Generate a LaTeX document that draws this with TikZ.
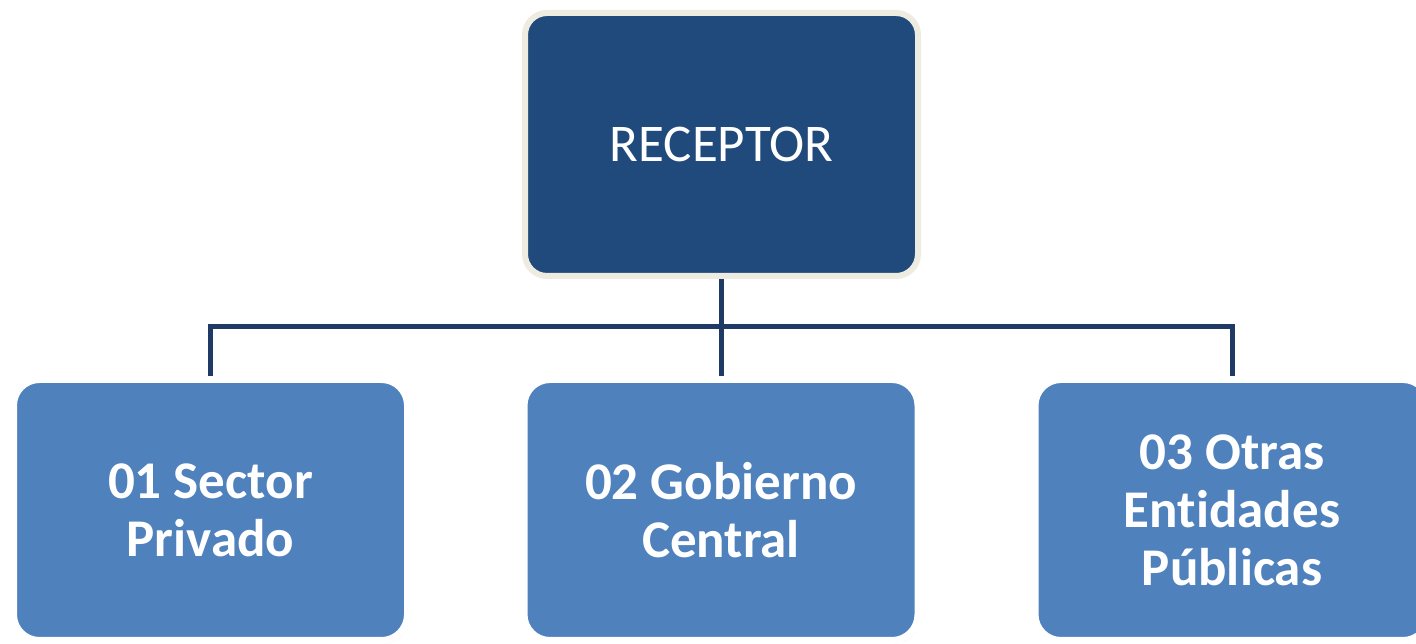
\documentclass[tikz,border=0pt]{standalone}
\usepackage{fontspec}
\setmainfont[Ligatures=NoCommon]{Carlito}
\usetikzlibrary{shadows}
\definecolor{topfill}{RGB}{33,74,124}
\definecolor{subfill}{RGB}{79,129,189}
\definecolor{linecol}{RGB}{31,58,100}
\definecolor{cream}{RGB}{238,235,224}
\begin{document}
\begin{tikzpicture}[x=1pt,y=1pt,
  topbox/.style={draw=cream, line width=6pt, fill=topfill, rounded corners=22pt,
    minimum width=393pt, minimum height=263pt, inner sep=0pt, text=white,
    font=\fontsize{53}{58}\selectfont},
  subbox/.style={draw=white, line width=7pt, fill=subfill, rounded corners=26pt,
    minimum width=394pt, minimum height=261pt, inner sep=0pt, text=white, align=center,
    font=\fontsize{53}{58}\selectfont\bfseries,
    drop shadow={shadow xshift=2pt, shadow yshift=-3pt, opacity=0.18}},
  conn/.style={draw=linecol, line width=5pt}]
\useasboundingbox (0,0) rectangle (1416,644);
\fill[white] (0,0) rectangle (1416,644);
\coordinate (j) at (721,317);
\node[topbox] (top) at (721.5,499.5) {RECEPTOR};
\node[subbox] (b1) at (210.5,134) {01 Sector\\Privado};
\node[subbox] (b2) at (721,134) {02 Gobierno\\Central};
\node[subbox] (b3) at (1232,134) {03 Otras\\Entidades\\Públicas};
\draw[conn] (top.south) -- (top.south |- j);
\draw[conn] (b1.north) -- (b1.north |- j) -- (b3.north |- j) -- (b3.north);
\draw[conn] (b2.north) -- (b2.north |- j);
\end{tikzpicture}
\end{document}
